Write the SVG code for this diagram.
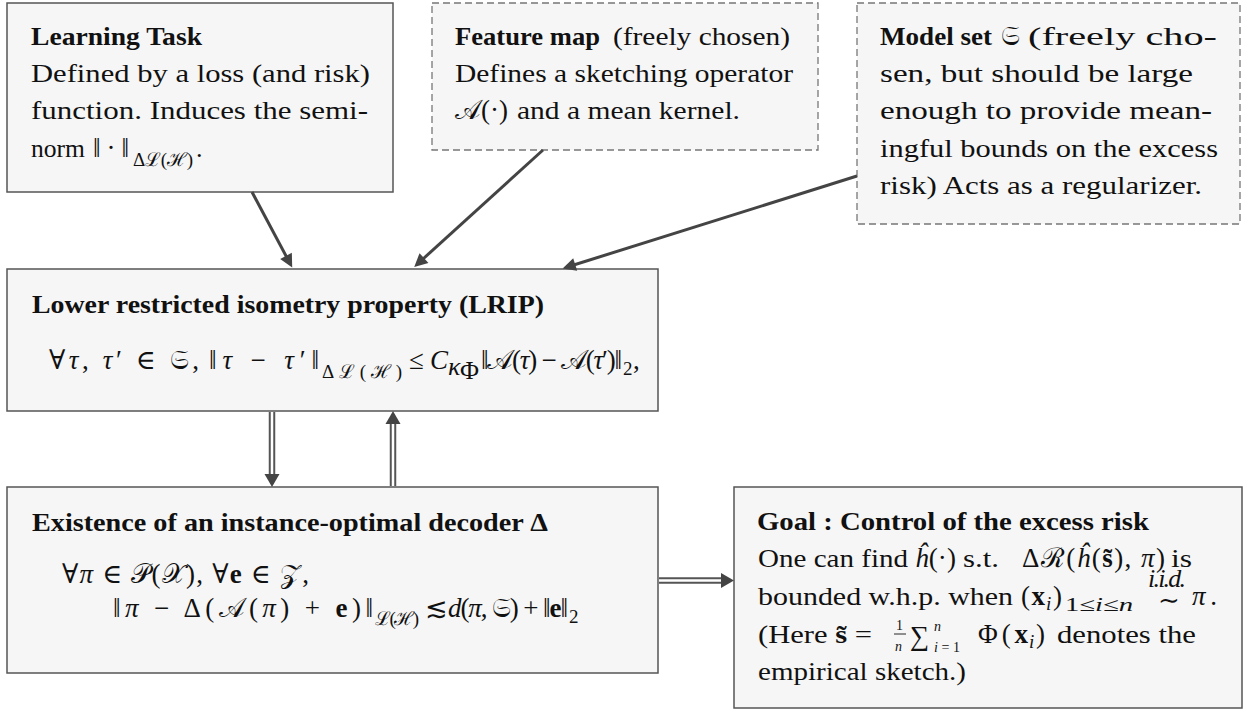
<svg xmlns="http://www.w3.org/2000/svg" width="1245" height="709" viewBox="0 0 1245 709">
<defs>
<style>
.box{fill:#f6f6f6;stroke:#555;stroke-width:1.5}
.dash{fill:#f6f6f6;stroke:#777;stroke-width:1.3;stroke-dasharray:7 4}
text{font-family:"Liberation Serif","DejaVu Serif",serif;font-size:26px;fill:#111}
.m{font-size:27px}
.b{font-weight:bold}
.i{font-style:italic}
.sub{font-size:19px}
.tiny{font-size:14px}
.conn{stroke:#444;stroke-width:3;fill:none}
.dbl{stroke:#555;stroke-width:6.5;fill:none}
.gap{stroke:#fff;stroke-width:2.5;fill:none}
.head{fill:#444}
</style>
<marker id="ah" viewBox="0 0 10 10" refX="5" refY="5" markerWidth="5.5" markerHeight="4.4" orient="auto" markerUnits="strokeWidth">
<path d="M0,0 L10,5 L0,10 z" fill="#444"/>
</marker>
</defs>
<rect width="1245" height="709" fill="#fff"/>

<g id="learning-task">
<rect class="box" x="7" y="3" width="386" height="189"/>
<text x="31" y="45" class="b" textLength="171" lengthAdjust="spacingAndGlyphs">Learning Task</text>
<text x="31" y="82" textLength="339" lengthAdjust="spacingAndGlyphs">Defined by a loss (and risk)</text>
<text x="31" y="119" textLength="337" lengthAdjust="spacingAndGlyphs">function.  Induces the semi-</text>
<text x="31" y="157" textLength="54" lengthAdjust="spacingAndGlyphs">norm</text>
<text x="93" y="157" class="m" textLength="36">‖·‖</text>
<text x="133" y="166" class="sub" textLength="60">Δℒ(ℋ)</text>
<text x="196" y="157">.</text>
</g>

<g id="feature-map">
<rect class="dash" x="432" y="3" width="386" height="147"/>
<text x="455" y="45" class="b" textLength="145" lengthAdjust="spacingAndGlyphs">Feature map</text>
<text x="613" y="45" textLength="177" lengthAdjust="spacingAndGlyphs">(freely chosen)</text>
<text x="455" y="82" textLength="338" lengthAdjust="spacingAndGlyphs">Defines a sketching operator</text>
<text x="455" y="119" class="m" textLength="53">𝒜(·)</text>
<text x="517" y="119" textLength="223" lengthAdjust="spacingAndGlyphs">and a mean kernel.</text>
</g>

<g id="model-set">
<rect class="dash" x="857" y="3" width="383" height="221"/>
<text x="880" y="45" class="b" textLength="112" lengthAdjust="spacingAndGlyphs">Model set</text>
<text x="1001" y="45" class="m">𝔖</text>
<text x="1028" y="45" textLength="189" lengthAdjust="spacingAndGlyphs">(freely cho-</text>
<text x="880" y="82" textLength="313" lengthAdjust="spacingAndGlyphs">sen, but should be large</text>
<text x="880" y="119" textLength="332" lengthAdjust="spacingAndGlyphs">enough to provide mean-</text>
<text x="880" y="157" textLength="338" lengthAdjust="spacingAndGlyphs">ingful bounds on the excess</text>
<text x="880" y="194" textLength="322" lengthAdjust="spacingAndGlyphs">risk) Acts as a regularizer.</text>
</g>

<g id="lrip">
<rect class="box" x="7" y="269" width="651" height="142"/>
<text x="32" y="313" class="b" textLength="512" lengthAdjust="spacingAndGlyphs">Lower restricted isometry property (LRIP)</text>
<text x="49" y="369" class="m" textLength="150">∀<tspan class="i">τ</tspan>, <tspan class="i">τ</tspan>′ ∈ 𝔖,</text>
<text x="209" y="369" class="m" textLength="110">‖<tspan class="i">τ</tspan> − <tspan class="i">τ</tspan>′‖</text>
<text x="322" y="378" class="sub" textLength="80">Δℒ(ℋ)</text>
<text x="409" y="369" class="m">≤</text>
<text x="430" y="369" class="m i">C</text>
<text x="448" y="375" class="i" font-size="15">κ</text>
<text x="460" y="379" font-size="10">Φ</text>
<text x="481" y="369" class="m" textLength="141">‖𝒜(<tspan class="i">τ</tspan>) − 𝒜(<tspan class="i">τ</tspan>′)‖</text>
<text x="623" y="375" class="sub">2</text>
<text x="633" y="369" class="m">,</text>
</g>

<g id="decoder">
<rect class="box" x="7" y="487" width="651" height="186"/>
<text x="32" y="531" class="b" textLength="516" lengthAdjust="spacingAndGlyphs">Existence of an instance-optimal decoder Δ</text>
<text x="62" y="583" class="m" textLength="247">∀<tspan class="i">π</tspan> ∈ 𝒫(𝒳), ∀<tspan class="b">e</tspan> ∈ 𝒵,</text>
<text x="113" y="617" class="m" textLength="260">‖<tspan class="i">π</tspan> − Δ(𝒜(<tspan class="i">π</tspan>) + <tspan class="b">e</tspan>)‖</text>
<text x="375" y="625" class="sub" textLength="44">ℒ(ℋ)</text>
<text x="425" y="617" class="m">≲</text>
<text x="448" y="617" class="m" textLength="120"><tspan class="i">d</tspan>(<tspan class="i">π</tspan>, 𝔖) + ‖<tspan class="b">e</tspan>‖</text>
<text x="569" y="623" class="sub">2</text>
</g>

<g id="goal">
<rect class="box" x="734" y="487" width="508" height="221"/>
<text x="757" y="530" class="b" textLength="392" lengthAdjust="spacingAndGlyphs">Goal :  Control of the excess risk</text>
<text x="758" y="567" textLength="150" lengthAdjust="spacingAndGlyphs">One can find</text>
<text x="915" y="567" class="m" textLength="41"><tspan class="i">ĥ</tspan>(·)</text>
<text x="963" y="567" textLength="36" lengthAdjust="spacingAndGlyphs">s.t.</text>
<text x="1022" y="567" class="m" textLength="143">Δℛ(<tspan class="i">ĥ</tspan>(<tspan class="b">s̃</tspan>), <tspan class="i">π</tspan>)</text>
<text x="1171" y="567" textLength="21" lengthAdjust="spacingAndGlyphs">is</text>
<text x="758" y="605" textLength="255" lengthAdjust="spacingAndGlyphs">bounded w.h.p.  when</text>
<text x="1021" y="605" class="m" textLength="24">(<tspan class="b">x</tspan></text>
<text x="1046" y="610" class="sub i">i</text>
<text x="1053" y="605" class="m">)</text>
<text x="1065" y="611" class="sub" textLength="68" lengthAdjust="spacingAndGlyphs">1≤<tspan class="i">i</tspan>≤<tspan class="i">n</tspan></text>
<text x="1158" y="609" font-size="24">∼</text>
<text x="1148" y="587" class="i" font-size="12" textLength="38">i.i.d.</text>
<text x="1192" y="605" class="m" textLength="25"><tspan class="i">π</tspan>.</text>
<text x="758" y="643" textLength="114" lengthAdjust="spacingAndGlyphs">(Here <tspan class="b">s̃</tspan> =</text>
<text x="896" y="630" class="tiny">1</text>
<line x1="894" y1="634" x2="906" y2="634" stroke="#111" stroke-width="0.9"/>
<text x="895" y="651" class="tiny i">n</text>
<text x="910" y="645" class="m">∑</text>
<text x="934" y="631" class="tiny i">n</text>
<text x="934" y="652" class="tiny" textLength="26"><tspan class="i">i</tspan>=1</text>
<text x="978" y="643" class="m" textLength="50">Φ(<tspan class="b">x</tspan></text>
<text x="1029" y="648" class="sub i">i</text>
<text x="1036" y="643" class="m">)</text>
<text x="1057" y="643" textLength="139" lengthAdjust="spacingAndGlyphs">denotes the</text>
<text x="758" y="680" textLength="208" lengthAdjust="spacingAndGlyphs">empirical sketch.)</text>
</g>

<g id="connectors">
<line class="conn" x1="252" y1="192" x2="289.1" y2="261.7" marker-end="url(#ah)"/>
<line class="conn" x1="543" y1="150" x2="419.1" y2="262.5" marker-end="url(#ah)"/>
<line class="conn" x1="857" y1="176" x2="568.9" y2="266.5" marker-end="url(#ah)"/>
<line class="dbl" x1="272" y1="412" x2="272" y2="475"/>
<line class="gap" x1="272" y1="412" x2="272" y2="475"/>
<polygon class="head" points="264.5,474 279.5,474 272,487"/>
<line class="dbl" x1="393" y1="486" x2="393" y2="423"/>
<line class="gap" x1="393" y1="486" x2="393" y2="423"/>
<polygon class="head" points="385.5,424 400.5,424 393,411"/>
<line class="dbl" x1="659" y1="580.5" x2="722" y2="580.5"/>
<line class="gap" x1="659" y1="580.5" x2="722" y2="580.5"/>
<polygon class="head" points="721,573 721,588 734,580.5"/>
</g>
</svg>
